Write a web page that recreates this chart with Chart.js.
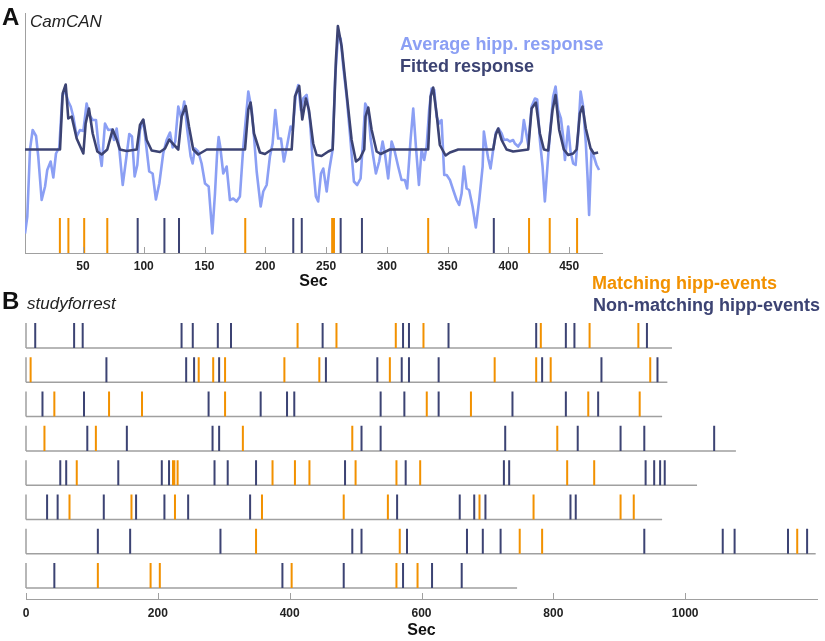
<!DOCTYPE html>
<html>
<head>
<meta charset="utf-8">
<script src="https://cdn.jsdelivr.net/npm/chart.js@4.4.1/dist/chart.umd.min.js"></script>
<style>
  body { margin: 0; background: #fff; font-family: "Liberation Sans", Arial, sans-serif; }
  #page { position: relative; width: 825px; height: 641px; overflow: hidden; }
  .box { position: absolute; left: 0; width: 825px; }
  #boxA { top: 0; height: 300px; }
  #boxB { top: 300px; height: 341px; }
  .lbl { position: absolute; white-space: nowrap; line-height: 1; }
</style>
</head>
<body>
<div id="page">
  <div class="box" id="boxA"><canvas id="chartA"></canvas></div>
  <div class="box" id="boxB"><canvas id="chartB"></canvas></div>

  <div class="lbl" style="left:2px;top:5px;font-size:24px;font-weight:bold;color:#111">A</div>
  <div class="lbl" style="left:30px;top:13px;font-size:17px;font-style:italic;color:#222">CamCAN</div>
  <div class="lbl" style="left:400px;top:35px;font-size:18px;font-weight:bold;color:#8b9ff4">Average hipp. response</div>
  <div class="lbl" style="left:400px;top:57px;font-size:18px;font-weight:bold;color:#3c4373">Fitted response</div>

  <div class="lbl" style="left:2px;top:289px;font-size:24px;font-weight:bold;color:#111">B</div>
  <div class="lbl" style="left:27px;top:295px;font-size:17px;font-style:italic;color:#222">studyforrest</div>
  <div class="lbl" style="left:592px;top:274px;font-size:18px;font-weight:bold;color:#f29100">Matching hipp-events</div>
  <div class="lbl" style="left:593px;top:296px;font-size:18px;font-weight:bold;color:#3c4373">Non-matching hipp-events</div>
</div>

<script>
const BLUE = '#8b9ff4';
const NAVY = '#3c4373';
const ORANGE = '#f29100';
const AXIS = '#a0a0a0';

// ---- Panel A: CamCAN ----
// [sec, value]
const avgResponse = [
  [2.3,-8.4],[4.2,-6.7],[6.4,0],[8.6,1.95],[11.4,1.35],[13.2,-0.7],[16,-5.05],[18.8,-3.7],[20.6,-2.05],
  [23.4,-1.2],[25.6,-2.8],[27.8,-0.4],[30.5,0.2],[33,5.3],[35.2,5.95],[37.9,4.8],[39.9,4.3],[42,3.3],
  [44.8,1.3],[47.5,1.95],[50.3,1.85],[53,4.6],[55.2,3.45],[58,2.95],[60.7,2.95],[62.6,0.6],[65.4,-1.65],
  [68.1,2.6],[70.8,1.95],[73.6,2.0],[75.5,0.95],[77.7,2.1],[79.9,0],[82.7,-3.55],[85.4,-1.05],[88.1,1.55],
  [90.3,1.3],[92.5,-2.7],[94.7,-1.55],[96.9,1.95],[99.6,2.95],[102.4,0],[104.5,-2.2],[107.3,-2.4],[110,-5.0],
  [112.8,-3.4],[116,-0.4],[118.8,0.95],[121.6,1.7],[123.8,0.2],[125.9,0.8],[128.4,4.3],[130.9,3.1],[133.3,4.8],
  [135.8,1.95],[138.6,-0.7],[140.2,-1.4],[142.1,0.1],[144.8,-0.2],[147.6,-1.4],[150.4,-3.4],[153.4,-3.7],
  [156.4,-8.4],[158.6,-4.4],[160.3,-0.5],[161.6,1.25],[162.9,0.3],[165.4,-2.4],[168.2,-1.7],[170.9,-5.05],
  [173.6,-4.9],[176.4,-5.2],[179.1,-4.7],[181.9,0.3],[186,5.8],[188.8,3.95],[190.7,1.3],[192.9,-2.2],
  [196.2,-5.7],[198.3,-4.2],[201.1,-3.55],[203.8,-0.7],[206,0.6],[208.2,3.95],[210.6,1.1],[212.9,1.1],
  [215.3,-1.2],[218,0.45],[220.8,2.3],[222.5,1.95],[225.2,5.6],[227.1,6.45],[229.3,3.95],[231.2,5.1],
  [234,5.45],[236.7,2.95],[238.9,-1.05],[241.6,-4.7],[243.5,-5.2],[245.8,-2.4],[247.7,-1.9],[250.5,-4.2],
  [252.6,-2.05],[255.4,0],[257.5,7.3],[259.7,11.1],[262,11.1],[264.1,8.3],[266.9,5.3],[269.6,1.6],
  [272.9,-3.2],[275.6,-3.55],[278.4,-2.9],[280.6,1.3],[282.2,4.6],[284.7,3.95],[286.6,1.1],[288.8,-0.7],
  [291,-2.4],[293.7,-1.2],[296.5,0.8],[298.4,-0.4],[301.1,-2.9],[303.9,0.8],[306.1,0],[309.3,-1.7],
  [312.1,-3.05],[314.8,-3.05],[316.7,-3.9],[319.5,0.95],[321.7,4.1],[323.9,0.3],[326.4,-3.55],[328.6,0],
  [330.7,-1.05],[332.7,0.3],[334.8,3.95],[336.8,6.1],[339,5.95],[340.9,3.3],[343.1,2.6],[345,2.95],
  [347.2,-2.55],[349.2,-2.55],[351.9,-3.05],[354.6,-4.05],[357.4,-5.05],[359.5,-5.55],[361.5,-4.4],
  [363.4,-1.7],[365.6,-3.9],[367.7,-4.05],[370.5,-5.7],[373.2,-7.8],[376,-5.05],[378.8,-1.7],[379.8,1.8],
  [381.5,0.45],[383.4,-0.9],[385.3,-1.9],[387.5,0],[389.7,1.7],[391.9,2.1],[394.4,1.6],[396.3,0.95],
  [399,1.0],[401.2,0.8],[403.9,0.95],[405.3,0.6],[408,0.3],[410.8,0.8],[412.7,2.95],[414.4,1.8],
  [416.3,0.45],[419.1,4.3],[421.8,5.1],[423.7,5.0],[425.9,0.95],[428.1,-1.7],[430,-5.2],[432.7,-0.7],
  [434.7,2.3],[436.8,5.3],[438.8,6.3],[440.9,3.95],[443.2,3.1],[445,1.3],[446.5,-1.05],[449.2,2.3],
  [451.1,-0.2],[453.3,-1.4],[455.3,-1.55],[457.4,1.6],[459.4,5.8],[461.5,4.3],[463.7,0.6],[465.1,-2.7],
  [466.4,-6.55],[468.4,0],[470.3,-0.7],[472.5,-1.55],[474.6,-2.05]
];

const fittedResponse = [
  [2.3,0],[31.1,0],[33.3,5.6],[35.8,6.5],[37.9,3.1],[40.7,3.3],[44.8,1.1],[50.3,-0.4],[52.2,2.6],
  [54.9,4.1],[58,1.6],[61.8,-0.2],[65.4,-0.5],[70,0],[74.4,2.0],[77.7,1.0],[80.4,0],[85.9,-0.15],
  [94.2,0],[96.9,2.45],[99.6,3.0],[102.4,0.95],[106.5,-0.1],[113.3,-0.25],[117.5,0.1],[121,1.0],
  [123.8,0.6],[128.4,0],[131.2,3.3],[134.5,4.35],[137.2,2.3],[140.7,0],[144.8,-0.5],[151.8,0],
  [183.3,0],[186,4.0],[187.9,4.7],[190.7,1.6],[195.6,-0.3],[199.7,-0.45],[205.2,0],[221.7,0],
  [224.4,5.3],[227.9,6.35],[230.4,3.0],[233.4,5.1],[235.9,3.95],[239.4,0.6],[242.2,-0.55],[246.3,-0.65],
  [251.8,-0.2],[255.4,0],[258.1,8.95],[259.7,12.35],[262.8,10.3],[266.9,5.6],[271,0.95],[274.6,-1.2],
  [277.8,-0.9],[281.4,0],[282.5,3.3],[284.7,4.2],[287.5,1.95],[291.6,-0.2],[294.9,-0.45],[302.5,0],
  [334,0],[336,5.3],[338.1,6.2],[340.9,3.6],[343.6,0.45],[348.3,-0.6],[351.9,-0.3],[358.7,0],
  [387.5,0],[389.5,1.45],[391.6,2.1],[394.4,0.95],[398.5,0],[403.9,-0.2],[416.3,0],[419.1,4.1],
  [422.6,4.7],[425.9,1.6],[429.2,0],[432.7,-0.1],[436.3,3.95],[438.8,5.45],[441.8,1.95],[445.6,0],
  [449.2,-0.55],[453.3,-0.4],[456.1,0],[458.8,3.6],[461,4.3],[463.7,2.1],[467.6,0.1],[470.3,-0.4],
  [473.8,-0.3]
];

const camcanMatching = [31, 38, 51, 70, 183.5, 255, 256.5, 334, 417, 434, 456.5];
const camcanNonMatching = [95, 117, 129, 223, 230, 262, 279.5, 388];
const xTicksA = [50, 100, 150, 200, 250, 300, 350, 400, 450];

// ---- Panel B: studyforrest (one entry per run, top to bottom) ----
const forrestMatching = [
  [412, 471, 561, 603, 781, 855, 929],
  [7, 262, 284, 302, 392, 445, 552, 711, 774, 796, 947],
  [43, 126, 176, 302, 608, 675, 853, 931],
  [28, 106, 329, 495, 806],
  [77, 223, 225, 230, 374, 408, 430, 500, 562, 598, 821, 862],
  [66, 160, 226, 358, 482, 549, 688, 770, 902, 922],
  [349, 567, 749, 783, 1170],
  [109, 189, 203, 403, 562, 594]
];
const forrestNonMatching = [
  [14, 73, 86, 236, 253, 291, 311, 450, 572, 581, 641, 774, 819, 832, 942],
  [122, 243, 255, 293, 455, 533, 570, 581, 626, 783, 873, 958],
  [25, 88, 277, 356, 396, 407, 538, 574, 626, 738, 819, 868],
  [93, 153, 283, 293, 509, 538, 727, 837, 902, 938, 1044],
  [52, 61, 140, 206, 217, 286, 306, 349, 484, 576, 725, 733, 940, 953, 962, 969],
  [32, 48, 118, 167, 210, 246, 340, 563, 658, 680, 697, 826, 834],
  [109, 158, 295, 495, 509, 578, 669, 693, 720, 938, 1057, 1075, 1156, 1185],
  [43, 389, 482, 572, 616, 661]
];
const runLengths = [980, 973, 965, 1077, 1018, 965, 1198, 745];
const xTicksB = [0, 200, 400, 600, 800, 1000];

// helpers
const pairs = arr => arr.map(p => ({x: p[0], y: p[1]}));
function segments(xs, lo, hi) {
  const out = [];
  xs.forEach(x => { out.push({x, y: lo}, {x, y: hi}, {x, y: null}); });
  return out;
}

const innerTicks = {
  id: 'innerTicks',
  afterDraw(chart) {
    const sc = chart.scales.x, ctx = chart.ctx;
    ctx.save();
    ctx.strokeStyle = AXIS;
    ctx.lineWidth = 1;
    sc.ticks.forEach(t => {
      const px = Math.round(sc.getPixelForValue(t.value)) + 0.5;
      ctx.beginPath();
      ctx.moveTo(px, sc.top);
      ctx.lineTo(px, sc.top - 6);
      ctx.stroke();
    });
    ctx.restore();
  }
};

const tickFont = {family: '"Liberation Sans", Arial, sans-serif', size: 12, weight: 'bold'};
const titleFont = {family: '"Liberation Sans", Arial, sans-serif', size: 16, weight: 'bold'};

// Panel A
const evLoA = -10.35, evHiA = -6.85;
new Chart(document.getElementById('chartA'), {
  type: 'line',
  data: {
    datasets: [
      {label: 'Fitted response', data: pairs(fittedResponse), borderColor: NAVY, borderWidth: 2.6, order: 0},
      {label: 'Average hipp. response', data: pairs(avgResponse), borderColor: BLUE, borderWidth: 2.6, order: 1},
      {label: 'Matching hipp-events', data: segments(camcanMatching, evLoA, evHiA), borderColor: ORANGE, borderWidth: 2, borderCapStyle: 'butt', order: 2, clip: false},
      {label: 'Non-matching hipp-events', data: segments(camcanNonMatching, evLoA, evHiA), borderColor: NAVY, borderWidth: 2, borderCapStyle: 'butt', order: 2, clip: false}
    ]
  },
  options: {
    responsive: true,
    maintainAspectRatio: false,
    animation: false,
    layout: {padding: {left: 25, right: 223, top: 13, bottom: 0}},
    elements: {point: {radius: 0}, line: {tension: 0, borderJoinStyle: 'round'}},
    plugins: {legend: {display: false}, tooltip: {enabled: false}},
    scales: {
      x: {
        type: 'linear', min: 2.3, max: 477,
        afterBuildTicks: s => { s.ticks = xTicksA.map(v => ({value: v})); },
        afterFit: s => { s.height = 47; },
        grid: {display: false, drawTicks: false},
        border: {color: AXIS, width: 1},
        ticks: {font: tickFont, color: '#222', padding: 6, maxRotation: 0, autoSkip: false, callback: v => String(v)},
        title: {display: true, text: 'Sec', font: titleFont, color: '#111', padding: {top: 0, bottom: 9}}
      },
      y: {
        min: -10.35, max: 13.65,
        afterFit: s => { s.width = 0; },
        grid: {display: false, drawTicks: false},
        ticks: {display: false},
        border: {color: AXIS, width: 1}
      }
    }
  },
  plugins: [innerTicks]
});

// Panel B
const rowTop = 0.73;
const baseLines = [];
const matchSegs = [];
const nonMatchSegs = [];
runLengths.forEach((len, k) => {
  const b = 7 - k;
  baseLines.push({x: 0, y: b}, {x: len, y: b}, {x: len, y: null});
  baseLines.push({x: 0, y: b}, {x: 0, y: b + rowTop}, {x: 0, y: null});
  matchSegs.push(...segments(forrestMatching[k], b, b + rowTop));
  nonMatchSegs.push(...segments(forrestNonMatching[k], b, b + rowTop));
});

new Chart(document.getElementById('chartB'), {
  type: 'line',
  data: {
    datasets: [
      {label: 'runs', data: baseLines, borderColor: AXIS, borderWidth: 1.5, order: 2, clip: false},
      {label: 'Matching hipp-events', data: matchSegs, borderColor: ORANGE, borderWidth: 2, order: 1, clip: false},
      {label: 'Non-matching hipp-events', data: nonMatchSegs, borderColor: NAVY, borderWidth: 2, order: 1, clip: false}
    ]
  },
  options: {
    responsive: true,
    maintainAspectRatio: false,
    animation: false,
    layout: {padding: {left: 26, right: 8, top: 20.6, bottom: 0}},
    elements: {point: {radius: 0}, line: {tension: 0, borderCapStyle: 'butt'}},
    plugins: {legend: {display: false}, tooltip: {enabled: false}},
    scales: {
      x: {
        type: 'linear', min: 0, max: 1200,
        afterBuildTicks: s => { s.ticks = xTicksB.map(v => ({value: v})); },
        afterFit: s => { s.height = 42; },
        grid: {display: false, drawTicks: false},
        border: {color: AXIS, width: 1},
        ticks: {font: tickFont, color: '#222', padding: 7, maxRotation: 0, autoSkip: false, callback: v => String(v)},
        title: {display: true, text: 'Sec', font: titleFont, color: '#111', padding: {top: 0, bottom: 1}}
      },
      y: {
        display: false,
        min: -0.32, max: 7.8
      }
    }
  },
  plugins: [innerTicks]
});
</script>
</body>
</html>
